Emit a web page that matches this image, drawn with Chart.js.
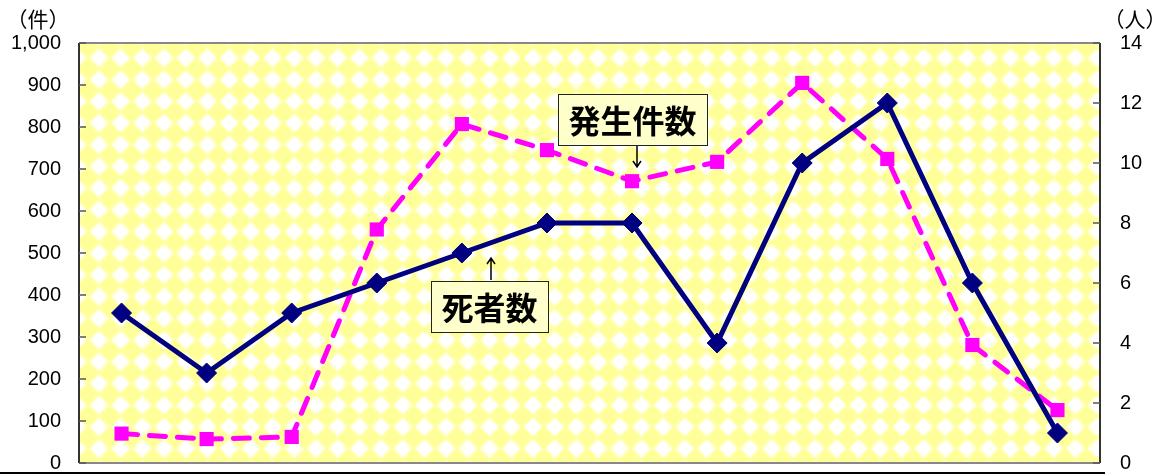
<!DOCTYPE html>
<html>
<head>
<meta charset="utf-8">
<script src="https://cdn.jsdelivr.net/npm/chart.js@4"></script>
<style>
  body { margin: 0; background: #fff; }
  #wrap { position: relative; width: 1166px; height: 474px; }
</style>
</head>
<body>
<div id="wrap"><canvas id="c"></canvas></div>
<script>
const months = ['1','2','3','4','5','6','7','8','9','10','11','12'];
const cases = [70, 57, 62, 556, 807, 745, 671, 717, 905, 724, 281, 126];   // 発生件数（件）
const deaths = [5, 3, 5, 6, 7, 8, 8, 4, 10, 12, 6, 1];                      // 死者数（人）
const leftTicks = [0, 100, 200, 300, 400, 500, 600, 700, 800, 900, 1000];
const rightTicks = [0, 2, 4, 6, 8, 10, 12, 14];

const fontNum = 'Liberation Sans, Arial, sans-serif';
const fontJp = '"Noto Sans CJK JP", sans-serif';

// 背景の菱形模様と枠・目盛り
const backdrop = {
    id: 'backdrop',
    beforeDatasetsDraw(chart) {
        const { ctx, chartArea: a } = chart;
        ctx.save();
        ctx.beginPath();
        ctx.rect(a.left, a.top, a.right - a.left, a.bottom - a.top);
        ctx.clip();
        ctx.fillStyle = '#ffff99';
        ctx.fillRect(a.left, a.top, a.right - a.left, a.bottom - a.top);
        const P = 21.7, h = P / 2 - 1.5;
        ctx.fillStyle = '#ffffff';
        ctx.filter = 'blur(1px)';
        for (let y = a.top + 15 - P; y < a.bottom + P; y += P) {
            for (let x = a.left + 20 - P; x < a.right + P; x += P) {
                ctx.beginPath();
                ctx.moveTo(x, y - h);
                ctx.lineTo(x + h, y);
                ctx.lineTo(x, y + h);
                ctx.lineTo(x - h, y);
                ctx.closePath();
                ctx.fill();
            }
        }
        ctx.restore();

        ctx.save();
        ctx.lineWidth = 2;
        ctx.strokeStyle = '#888';
        ctx.beginPath();
        ctx.moveTo(a.left, a.top); ctx.lineTo(a.right, a.top);
        ctx.moveTo(a.left, a.bottom); ctx.lineTo(a.right, a.bottom);
        ctx.stroke();
        ctx.strokeStyle = '#333';
        ctx.beginPath();
        ctx.moveTo(a.left, a.top); ctx.lineTo(a.left, a.bottom);
        ctx.moveTo(a.right, a.top); ctx.lineTo(a.right, a.bottom);
        ctx.stroke();
        ctx.lineWidth = 1.5;
        ctx.strokeStyle = '#555';
        const yl = chart.scales.y, yr = chart.scales.y2;
        ctx.beginPath();
        leftTicks.forEach(v => { const py = yl.getPixelForValue(v); ctx.moveTo(a.left, py); ctx.lineTo(a.left + 7, py); });
        rightTicks.forEach(v => { const py = yr.getPixelForValue(v); ctx.moveTo(a.right - 7, py); ctx.lineTo(a.right, py); });
        ctx.stroke();
        // 下の黒線
        ctx.lineWidth = 2;
        ctx.strokeStyle = '#000';
        ctx.beginPath();
        ctx.moveTo(0, 473); ctx.lineTo(1105, 473);
        ctx.stroke();
        ctx.restore();
    },
    afterDraw(chart) {
        const { ctx } = chart;
        ctx.save();
        ctx.fillStyle = '#000';
        ctx.font = '21px ' + fontJp;
        ctx.textAlign = 'center';
        ctx.textBaseline = 'middle';
        ctx.fillText('（件）', 38, 19);
        ctx.fillText('（人）', 1135, 19);

        function label(text, x1, y1, x2, y2) {
            ctx.fillStyle = '#ffffcc';
            ctx.fillRect(x1, y1, x2 - x1, y2 - y1);
            ctx.lineWidth = 1;
            ctx.strokeStyle = '#222';
            ctx.strokeRect(x1 + 0.5, y1 + 0.5, x2 - x1, y2 - y1);
            ctx.fillStyle = '#000';
            ctx.font = 'bold 32px ' + fontJp;
            ctx.fillText(text, (x1 + x2) / 2, (y1 + y2) / 2 + 1);
        }
        function arrow(x, yFrom, yTo) {
            const d = yTo > yFrom ? 1 : -1;
            ctx.strokeStyle = '#000';
            ctx.lineWidth = 1.5;
            ctx.beginPath();
            ctx.moveTo(x, yFrom); ctx.lineTo(x, yTo);
            ctx.moveTo(x - 4, yTo - d * 6); ctx.lineTo(x, yTo); ctx.lineTo(x + 4, yTo - d * 6);
            ctx.stroke();
        }
        label('発生件数', 558, 94, 707, 145);
        arrow(637, 146, 167);
        label('死者数', 431, 281, 548, 332);
        arrow(491, 280, 258);
        ctx.restore();
    }
};

function fitSide(width) {
    return s => { s.width = width; s.paddingTop = 0; s.paddingBottom = 0; };
}

new Chart(document.getElementById('c'), {
    type: 'line',
    data: {
        labels: months,
        datasets: [
            {
                label: '死者数',
                data: deaths,
                yAxisID: 'y2',
                borderColor: '#000080',
                backgroundColor: '#000080',
                borderWidth: 5,
                pointStyle: 'rectRot',
                pointRadius: 10,
                pointBorderWidth: 1,
                tension: 0
            },
            {
                label: '発生件数',
                data: cases,
                yAxisID: 'y',
                borderColor: '#ff00ff',
                backgroundColor: '#ff00ff',
                borderWidth: 5,
                borderDash: [16, 12],
                borderCapStyle: 'round',
                pointStyle: 'rect',
                pointRadius: 10,
                pointBorderWidth: 0,
                tension: 0
            }
        ]
    },
    options: {
        responsive: true,
        maintainAspectRatio: false,
        animation: false,
        layout: { padding: { top: 43, bottom: 10, left: 0, right: 0 } },
        plugins: { legend: { display: false }, tooltip: { enabled: false } },
        scales: {
            x: { type: 'category', offset: true, display: false },
            y: {
                position: 'left', min: 0, max: 1000,
                afterFit: fitSide(79),
                afterBuildTicks(s) { s.ticks = leftTicks.map(v => ({ value: v })); },
                grid: { display: false, drawTicks: false },
                border: { display: false },
                ticks: { padding: 18, color: '#000', font: { family: fontNum, size: 20 },
                    callback: v => v.toLocaleString('en-US') }
            },
            y2: {
                position: 'right', min: 0, max: 14,
                afterFit: fitSide(66),
                afterBuildTicks(s) { s.ticks = rightTicks.map(v => ({ value: v })); },
                grid: { display: false, drawTicks: false },
                border: { display: false },
                ticks: { padding: 20, color: '#000', font: { family: fontNum, size: 20 } }
            }
        }
    },
    plugins: [backdrop]
});
</script>
</body>
</html>
